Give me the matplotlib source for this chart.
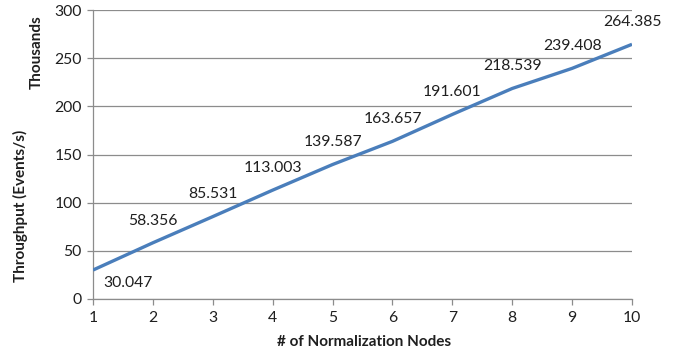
import matplotlib
matplotlib.use("Agg")
import matplotlib.pyplot as plt

nodes = [1, 2, 3, 4, 5, 6, 7, 8, 9, 10]
throughput_k = [30.047, 58.356, 85.531, 113.003, 139.587, 163.657, 191.601, 218.539, 239.408, 264.385]
yticks = [0, 50, 100, 150, 200, 250, 300]

plt.rcParams['font.family'] = ['Lato', 'DejaVu Sans']

fig = plt.figure(figsize=(6.77, 3.51), dpi=100)
ax = fig.add_axes([93/677, 52/351, (632-93)/677, (299-10)/351])

grid_c = '#8c8c8c'
txt_c = '#1f1f1f'
ax.plot(nodes, throughput_k, color='#4a7ebb', lw=2.4, solid_capstyle='butt', zorder=3)

ax.set_xlim(1, 10)
ax.set_ylim(0, 300)
ax.set_xticks(nodes)
ax.set_yticks(yticks)
ax.yaxis.grid(True, color=grid_c, lw=0.9)
ax.set_axisbelow(True)
for s in ['top', 'right']:
    ax.spines[s].set_visible(False)
for s in ['left', 'bottom']:
    ax.spines[s].set_color(grid_c)
    ax.spines[s].set_linewidth(0.9)
ax.tick_params(axis='both', colors=grid_c, length=4, width=0.9, direction='out',
               labelsize=11.3, labelcolor=txt_c)
ax.tick_params(axis='x', pad=5)
ax.tick_params(axis='y', pad=4)

for i, (x, y) in enumerate(zip(nodes, throughput_k)):
    if i == 0:
        ax.annotate(f"{y:.3f}", (x, y), xytext=(25, -9), textcoords='offset points',
                    ha='center', va='center', fontsize=11.3, color=txt_c)
    else:
        ax.annotate(f"{y:.3f}", (x, y), xytext=(0, 16), textcoords='offset points',
                    ha='center', va='center', fontsize=11.3, color=txt_c)

fig.text(364/677, 1 - 342/351, "# of Normalization Nodes", ha='center', va='center',
         fontsize=11, fontweight='bold', color=txt_c)
fig.text(20/677, 1 - 206/351, "Throughput (Events/s)", ha='center', va='center',
         rotation=90, fontsize=11, fontweight='bold', color=txt_c)
fig.text(37/677, 1 - 52/351, "Thousands", ha='center', va='center',
         rotation=90, fontsize=11, fontweight='bold', color=txt_c)

fig.savefig("out.png", dpi=100)
